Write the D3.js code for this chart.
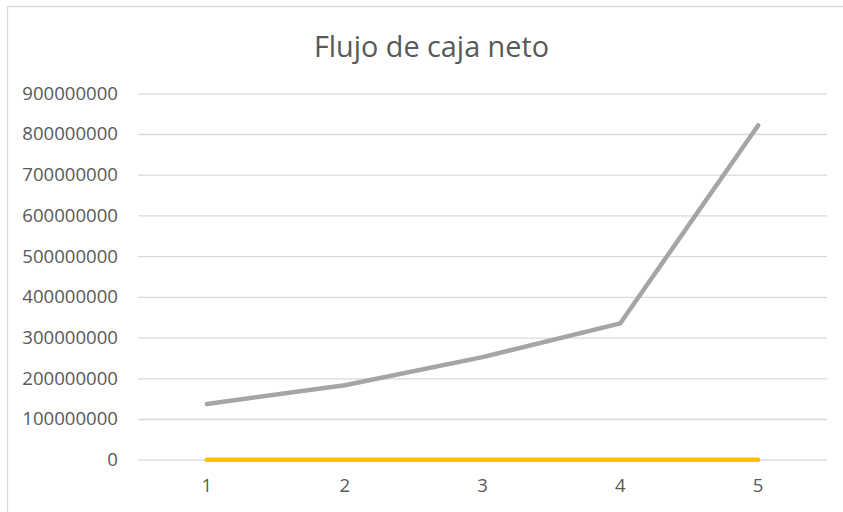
<!DOCTYPE html>
<html><head><meta charset="utf-8">
<script src="https://cdn.jsdelivr.net/npm/d3@7"></script>
<style>body{margin:0;background:#fff}svg{display:block}</style>
</head><body>
<script>
const categories = ["1","2","3","4","5"];
const flujoNeto = [137000000, 183000000, 252000000, 335000000, 821000000];
const serieCero = [0, 0, 0, 0, 0];
const yTicks = [0,100000000,200000000,300000000,400000000,500000000,600000000,700000000,800000000,900000000];
const title = "Flujo de caja neto";

const W = 843, H = 512;
const svg = d3.select("body").append("svg").attr("width", W).attr("height", H);
svg.append("rect").attr("x", 7.5).attr("y", 6.5).attr("width", W + 10).attr("height", H + 10)
  .attr("fill", "#fff").attr("stroke", "#d9d9d9").attr("stroke-width", 1.3);

const m = {left: 138, right: 827, top: 93.3, bottom: 459.7};
const x = d3.scaleBand().domain(categories).range([m.left, m.right]);
const y = d3.scaleLinear().domain([0, 900000000]).range([m.bottom, m.top]);
const font = "'Open Sans', sans-serif";

svg.append("text").attr("x", 431.5).attr("y", 57).attr("text-anchor", "middle")
  .attr("font-family", font).attr("font-size", 28.8).attr("fill", "#595959").text(title);

const yAxis = svg.append("g").attr("transform", `translate(${m.left},0)`)
  .call(d3.axisLeft(y).tickValues(yTicks).tickFormat(d3.format("d")).tickSize(-(m.right - m.left)).tickPadding(20));
yAxis.select(".domain").remove();
yAxis.selectAll("line").attr("stroke", "#d9d9d9").attr("stroke-width", 1.3);
yAxis.selectAll("text").attr("font-family", font).attr("font-size", 18.6).attr("fill", "#595959");

const xAxis = svg.append("g").attr("transform", `translate(0,${m.bottom})`)
  .call(d3.axisBottom(x).tickSize(0).tickPadding(19));
xAxis.select(".domain").remove();
xAxis.selectAll("text").attr("font-family", font).attr("font-size", 18.6).attr("fill", "#595959");

const line = d3.line().x((d, i) => x(categories[i]) + x.bandwidth() / 2).y(d => y(d));
svg.append("path").datum(serieCero).attr("d", line).attr("fill", "none")
  .attr("stroke", "#ffc000").attr("stroke-width", 4.5).attr("stroke-linecap", "round");
svg.append("path").datum(flujoNeto).attr("d", line).attr("fill", "none")
  .attr("stroke", "#a5a5a5").attr("stroke-width", 4.5).attr("stroke-linecap", "round").attr("stroke-linejoin", "round");
</script>
</body></html>
